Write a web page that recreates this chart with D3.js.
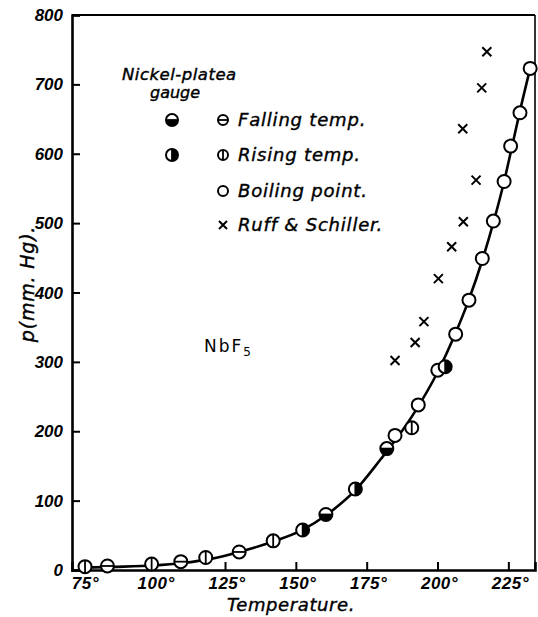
<!DOCTYPE html>
<html>
<head>
<meta charset="utf-8">
<script src="https://cdn.jsdelivr.net/npm/d3@7"></script>
<style>
  body { margin: 0; background: #fff; }
  svg { display: block; }
  .tick-label { font-family: "Liberation Sans"; font-style: italic; font-weight: bold; font-size: 17px; }
  .legend-text { font-family: "DejaVu Sans"; font-style: italic; font-size: 16px; stroke: #000; stroke-width: 0.4px; }
</style>
</head>
<body>
<div id="container"></div>
<script>
// chart frame in pixels
var margin = {top: 15, right: 3, bottom: 47, left: 72};
var outer_width = 538;
var outer_height = 617;
var svg_width = outer_width - margin.left - margin.right;
var svg_height = outer_height - margin.top - margin.bottom;

// tick values
var xTicks = [75, 100, 125, 150, 175, 200, 225];
var yTicks = [0, 100, 200, 300, 400, 500, 600, 700, 800];

// open circles, falling temperature
var fallTemp = [83.5, 109.4, 130.0];
var fallP = [5.8, 12, 26];
// open circles, rising temperature
var riseTemp = [75.6, 99.1, 118.2, 142.0, 190.9];
var riseP = [4.8, 8.6, 18, 42, 205];
// nickel-plate gauge, falling
var nickelFallTemp = [160.6, 182.1];
var nickelFallP = [80, 175];
// nickel-plate gauge, rising
var nickelRiseTemp = [152.4, 171.0, 202.7];
var nickelRiseP = [57.6, 116.7, 293];
// boiling points
var boilTemp = [185.0, 193.2, 200.1, 206.4, 211.1, 215.8, 219.7, 223.5, 225.8, 229.1, 232.7];
var boilP = [194, 238, 288, 340, 389, 449, 503, 560, 611, 659, 723];
// Ruff & Schiller
var ruffTemp = [185.0, 192.1, 195.2, 200.3, 205.0, 209.1, 208.9, 213.6, 215.6, 217.4];
var ruffP = [302, 328, 358, 420, 466, 502, 636, 562, 695, 747];
// smooth curve
var curveTemp = [75.6, 85, 100, 110, 120, 130, 142, 152, 161, 171, 180, 186, 192, 200, 206, 211, 216, 220, 223.5, 226, 229, 232.7];
var curveP = [3.5, 4.5, 6.5, 10, 16, 26, 41, 57, 80, 115, 160, 192, 228, 285, 338, 389, 449, 505, 560, 605, 660, 723];

function zip(t, p) {
    return t.map(function(d, i){ return {t: d, p: p[i]}; });
}

var canvas = d3.select("div#container")
    .append("svg")
    .attr("width", outer_width)
    .attr("height", outer_height);

var xScale = d3.scaleLinear()
    .domain([71.0, 234.4])
    .range([margin.left, margin.left + svg_width]);

var yScale = d3.scaleLinear()
    .domain([0, 800])
    .range([margin.top + svg_height, margin.top]);

// frame: top and right thin, left and bottom heavy
canvas.append("line")
    .attr("x1", xScale.range()[0]).attr("x2", xScale.range()[1])
    .attr("y1", yScale(800)).attr("y2", yScale(800))
    .attr("stroke", "#000").attr("stroke-width", 1.8);
canvas.append("line")
    .attr("x1", xScale.range()[1]).attr("x2", xScale.range()[1])
    .attr("y1", yScale(800)).attr("y2", yScale(0))
    .attr("stroke", "#000").attr("stroke-width", 1.6);

// y axis
var yAxis = d3.axisRight(yScale)
    .tickValues(yTicks)
    .tickSize(8)
    .tickFormat("");
var yg = canvas.append("g")
    .attr("transform", "translate(" + margin.left + ",0)")
    .call(yAxis);
yg.select(".domain").attr("stroke-width", 2.6);
yg.selectAll(".tick line").attr("stroke-width", 2);

// x axis
var xAxis = d3.axisTop(xScale)
    .tickValues(xTicks)
    .tickSize(8)
    .tickFormat("");
var xg = canvas.append("g")
    .attr("transform", "translate(0," + yScale(0) + ")")
    .call(xAxis);
xg.select(".domain").attr("stroke-width", 2.6);
xg.selectAll(".tick line").attr("stroke-width", 2);

// tick labels
canvas.selectAll(".ylab")
    .data(yTicks)
    .enter().append("text")
    .attr("class", "tick-label ylab")
    .attr("x", 63)
    .attr("y", function(d){ return yScale(d) + 6; })
    .attr("text-anchor", "end")
    .text(function(d){ return d; });

canvas.selectAll(".xlab")
    .data(xTicks)
    .enter().append("text")
    .attr("class", "tick-label xlab")
    .attr("x", function(d){ return xScale(d) + 2; })
    .attr("y", 589)
    .attr("text-anchor", "middle")
    .style("letter-spacing", "0.5px")
    .text(function(d){ return d + "°"; });

// axis titles
canvas.append("text")
    .attr("class", "legend-text")
    .attr("x", 291)
    .attr("y", 611)
    .attr("text-anchor", "middle")
    .style("font-size", "18px")
    .style("letter-spacing", "0.6px")
    .text("Temperature.");

canvas.append("text")
    .attr("class", "legend-text")
    .attr("transform", "translate(34,284) rotate(-90)")
    .attr("text-anchor", "middle")
    .style("font-size", "19px")
    .style("letter-spacing", "0.8px")
    .text("p(mm. Hg).");

// compound label
var nb = canvas.append("text")
    .attr("x", 204)
    .attr("y", 352)
    .style("font-family", "DejaVu Sans")
    .style("font-size", "17px")
    .style("letter-spacing", "2px");
nb.append("tspan").text("NbF");
nb.append("tspan").attr("dy", 4).style("font-size", "12px").text("5");

// the fitted curve
var line = d3.line()
    .x(function(d){ return xScale(d.t); })
    .y(function(d){ return yScale(d.p); })
    .curve(d3.curveMonotoneX);
canvas.append("path")
    .datum(zip(curveTemp, curveP))
    .attr("d", line)
    .attr("fill", "none")
    .attr("stroke", "#000")
    .attr("stroke-width", 2.6);

// marker drawing helpers
function openCircle(g, r) {
    g.append("circle").attr("r", r).attr("fill", "#fff").attr("stroke", "#000").attr("stroke-width", 2);
}
function drawMarker(g, kind, r) {
    openCircle(g, r);
    if (kind == "fall" || kind == "nfall") {
        if (kind == "nfall") {
            g.append("path")
                .attr("d", "M" + (-r) + ",0 A" + r + "," + r + " 0 0,0 " + r + ",0 Z")
                .attr("fill", "#000");
        }
        g.append("line").attr("x1", -r).attr("x2", r).attr("stroke", "#000").attr("stroke-width", 1.8);
    }
    if (kind == "rise" || kind == "nrise") {
        if (kind == "nrise") {
            g.append("path")
                .attr("d", "M0," + (-r) + " A" + r + "," + r + " 0 0,1 0," + r + " Z")
                .attr("fill", "#000");
        }
        g.append("line").attr("y1", -r).attr("y2", r).attr("stroke", "#000").attr("stroke-width", 1.8);
    }
}
function drawCross(g, s) {
    g.append("path")
        .attr("d", "M" + (-s) + "," + (-s) + "L" + s + "," + s + "M" + (-s) + "," + s + "L" + s + "," + (-s))
        .attr("stroke", "#000").attr("stroke-width", 2).attr("fill", "none");
}

function plotSeries(data, kind) {
    canvas.selectAll(".pt-" + kind)
        .data(data)
        .enter().append("g")
        .attr("class", "pt-" + kind)
        .attr("transform", function(d){ return "translate(" + xScale(d.t) + "," + yScale(d.p) + ")"; })
        .each(function(){
            var g = d3.select(this);
            if (kind == "ruff") drawCross(g, 4.5);
            else drawMarker(g, kind, 6.5);
        });
}

plotSeries(zip(ruffTemp, ruffP), "ruff");
plotSeries(zip(boilTemp, boilP), "boil");
plotSeries(zip(riseTemp, riseP), "rise");
plotSeries(zip(fallTemp, fallP), "fall");
plotSeries(zip(nickelFallTemp, nickelFallP), "nfall");
plotSeries(zip(nickelRiseTemp, nickelRiseP), "nrise");

// legend
canvas.append("text").attr("class", "legend-text").attr("x", 122).attr("y", 80)
    .style("font-size", "16.5px").style("letter-spacing", "0.5px").text("Nickel-platea");
canvas.append("text").attr("class", "legend-text").attr("x", 150).attr("y", 98)
    .style("font-size", "16px").text("gauge");

var legendKinds = ["fall", "rise", "boil", "ruff"];
var legendLabels = ["Falling temp.", "Rising temp.", "Boiling point.", "Ruff & Schiller."];
var legendY = [120, 155, 191, 225];

legendKinds.forEach(function(k, i){
    var g = canvas.append("g").attr("transform", "translate(223," + legendY[i] + ")");
    if (k == "ruff") drawCross(g, 4);
    else drawMarker(g, k, 5);
    canvas.append("text").attr("class", "legend-text")
        .attr("x", 238).attr("y", legendY[i] + 6)
        .style("font-size", "18px")
        .style("letter-spacing", "0.8px")
        .text(legendLabels[i]);
});

var ng1 = canvas.append("g").attr("transform", "translate(172,120)");
drawMarker(ng1, "nfall", 6);
var ng2 = canvas.append("g").attr("transform", "translate(172,155)");
drawMarker(ng2, "nrise", 6);
</script>
</body>
</html>
